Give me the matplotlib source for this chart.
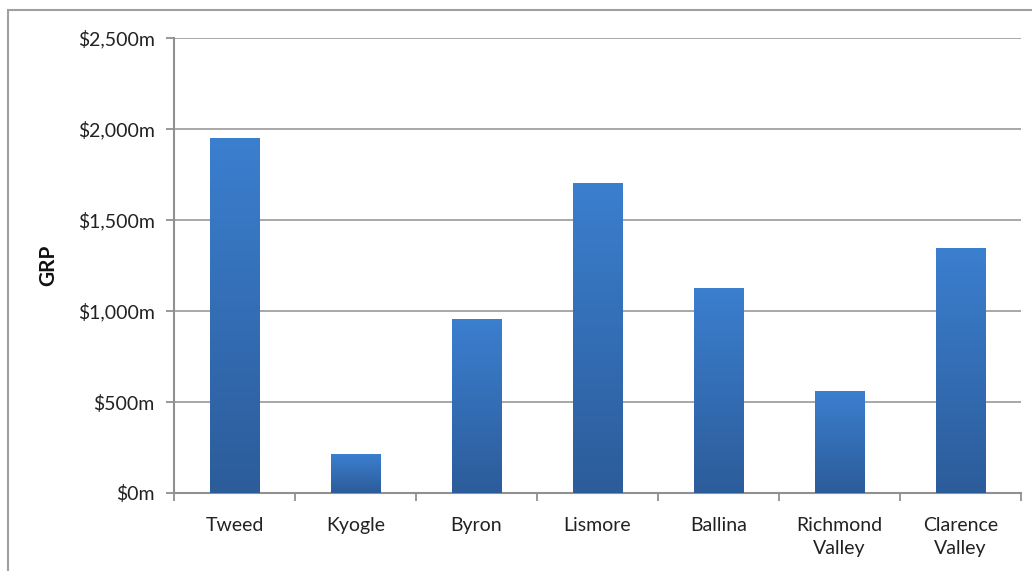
import numpy as np
import matplotlib.pyplot as plt
from matplotlib.colors import LinearSegmentedColormap
from matplotlib.patches import Rectangle
from matplotlib.ticker import FuncFormatter

regions = ['Tweed', 'Kyogle', 'Byron', 'Lismore', 'Ballina', 'Richmond\nValley', 'Clarence\nValley']
grp = [1950, 209, 956, 1703, 1126, 555, 1346]

plt.rcParams['font.family'] = ['Lato', 'DejaVu Sans']

fig = plt.figure(figsize=(10.32, 5.71), dpi=100)
W, H = 1032, 571
ax = fig.add_axes([174 / W, 1 - 493 / H, (1021 - 174) / W, (493 - 38) / H])

# chart frame (right and bottom edges run off the canvas)
fig.patches.append(Rectangle((8 / W, -0.1), 1.2, 1 - 10 / H + 0.1, transform=fig.transFigure,
                             fill=False, edgecolor='#a0a0a0', linewidth=1.5))

x = np.arange(len(regions))
width = 0.41
bars = ax.bar(x, grp, width=width, color='none', zorder=3)

# vertical gradient per bar: darker at the base, lighter at the top
cmap = LinearSegmentedColormap.from_list('bar', ['#2c5c9a', '#3b7fcf'])
grad = np.linspace(0, 1, 256).reshape(-1, 1)
for b in bars:
    ax.imshow(grad, cmap=cmap, origin='lower', aspect='auto', zorder=3,
              extent=(b.get_x(), b.get_x() + b.get_width(), 0, b.get_height()))

ax.set_xlim(-0.5, len(regions) - 0.5)
ax.set_ylim(0, 2500)
ax.set_yticks(np.arange(0, 2501, 500))
ax.yaxis.set_major_formatter(FuncFormatter(lambda v, p: '${:,.0f}m'.format(v)))
ax.grid(axis='y', color='#a0a0a0', linewidth=1.3, zorder=0)

ax.set_xticks(x)
ax.set_xticklabels(regions, fontsize=14, color='#222222', linespacing=1.45)
ax.set_xticks(np.arange(-0.5, len(regions)), minor=True)
ax.tick_params(axis='x', which='major', length=0, pad=17)
ax.tick_params(axis='x', which='minor', length=6, width=1.3, color='#909090')
ax.tick_params(axis='y', length=6, width=1.3, color='#909090', labelsize=14,
               labelcolor='#222222', pad=8)

for side in ['top', 'right']:
    ax.spines[side].set_visible(False)
for side in ['left', 'bottom']:
    ax.spines[side].set_color('#909090')
    ax.spines[side].set_linewidth(1.5)

ax.set_ylabel('GRP', fontsize=15, fontweight='bold', color='#111111')
ax.yaxis.set_label_coords(-(174 - 58) / (1021 - 174), 0.5)

fig.savefig('out.png', dpi=100)
